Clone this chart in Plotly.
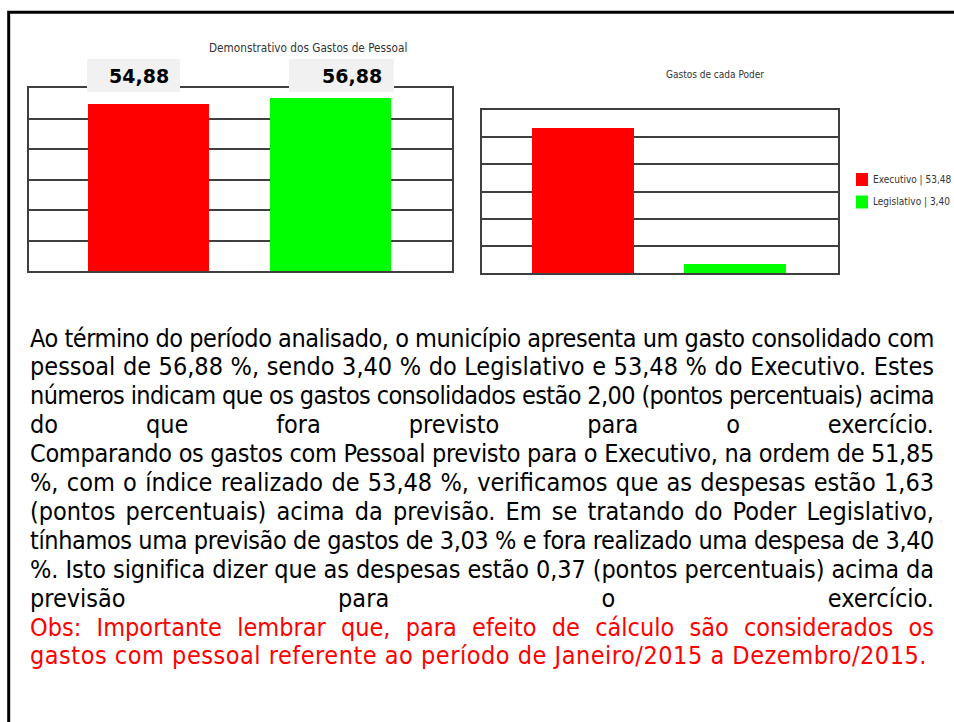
import plotly.graph_objects as go

W, H = 954, 722

# ---------------- data ----------------
consol_categories = ["Previsto", "Realizado"]
consol_values = [54.88, 56.88]
consol_colors = ["#ff0000", "#00ff00"]

poder_categories = ["Executivo", "Legislativo"]
poder_values = [53.48, 3.40]
poder_colors = ["#ff0000", "#00ff00"]

poder_previsto = [51.85, 3.03]

y_range = [0, 60]
y_dtick = 10


def br(v):
    return f"{v:.2f}".replace(".", ",")


def px(x):
    return x / W


def py(y):
    return 1 - y / H


GRID = "#3f3f3f"
TEXT_FONT = "DejaVu Sans Condensed, DejaVu Sans, Verdana, sans-serif"
SMALL_FONT = "DejaVu Sans Condensed, Liberation Sans, Arial, sans-serif"

fig = go.Figure()

fig.add_trace(go.Bar(
    x=consol_categories, y=consol_values, marker=dict(color=consol_colors, line=dict(width=0)),
    width=0.665, xaxis="x", yaxis="y", showlegend=False,
))
fig.add_trace(go.Bar(
    x=poder_categories, y=poder_values, marker=dict(color=poder_colors, line=dict(width=0)),
    width=0.671, xaxis="x2", yaxis="y2", showlegend=False,
))

axis_common = dict(showgrid=False, showticklabels=False, ticks="", zeroline=False,
                   showline=True, mirror=True, linecolor=GRID, linewidth=1.6, fixedrange=True)
yaxis_common = dict(axis_common, showgrid=True, gridcolor=GRID, gridwidth=1.6,
                    range=y_range, dtick=y_dtick, tick0=0)

fig.update_layout(
    width=W, height=H,
    margin=dict(l=0, r=0, t=0, b=0),
    paper_bgcolor="white", plot_bgcolor="white",
    showlegend=False,
    bargap=0,
    xaxis=dict(axis_common, domain=[px(29), px(452)], range=[-0.6566, 1.6676], type="category"),
    yaxis=dict(yaxis_common, domain=[py(271), py(88)], anchor="x"),
    xaxis2=dict(axis_common, domain=[px(482), px(838)], range=[-0.6645, 1.6776], type="category", anchor="y2"),
    yaxis2=dict(yaxis_common, domain=[py(273), py(110)], anchor="x2"),
)

# ---------------- paragraph text ----------------
lines = [
    "Ao término do período analisado, o município apresenta um gasto consolidado com",
    f"pessoal de {br(consol_values[1])} %, sendo {br(poder_values[1])} % do Legislativo e {br(poder_values[0])} % do Executivo. Estes",
    f"números indicam que os gastos consolidados estão {br(consol_values[1] - consol_values[0])} (pontos percentuais) acima",
    "do que fora previsto para o exercício.",
    f"Comparando os gastos com Pessoal previsto para o Executivo, na ordem de {br(poder_previsto[0])}",
    f"%, com o índice realizado de {br(poder_values[0])} %, verificamos que as despesas estão {br(poder_values[0] - poder_previsto[0])}",
    "(pontos percentuais) acima da previsão. Em se tratando do Poder Legislativo,",
    f"tínhamos uma previsão de gastos de {br(poder_previsto[1])} % e fora realizado uma despesa de {br(poder_values[1])}",
    f"%. Isto significa dizer que as despesas estão {br(poder_values[1] - poder_previsto[1])} (pontos percentuais) acima da",
    "previsão para o exercício.",
    "Obs: Importante lembrar que, para efeito de cálculo são considerados os",
    "gastos com pessoal referente ao período de Janeiro/2015 a Dezembro/2015.",
]
line_colors = ["#000000"] * 10 + ["#ff0000"] * 2
# right edge (px) each line should reach; justified lines reach the full column width
line_right = [933] * 11 + [926]
left_edge = 29

annotations = []
for i, (t, c) in enumerate(zip(lines, line_colors)):
    annotations.append(dict(
        text=t, xref="paper", yref="paper", x=px(left_edge - 1), y=py(338 + 28.9 * i),
        xanchor="left", yanchor="middle", showarrow=False, align="left",
        font=dict(family=TEXT_FONT, size=25, color=c),
    ))

# chart titles
annotations.append(dict(text="Demonstrativo dos Gastos de Pessoal", xref="paper", yref="paper",
                        x=px(308), y=py(48), xanchor="center", yanchor="middle", showarrow=False,
                        font=dict(family=SMALL_FONT, size=11.7, color="#333333")))
annotations.append(dict(text="Gastos de cada Poder", xref="paper", yref="paper",
                        x=px(715), y=py(74), xanchor="center", yanchor="middle", showarrow=False,
                        font=dict(family=SMALL_FONT, size=10, color="#333333")))

shapes = []

# value labels on the consolidated chart (grey box + bold value)
label_box = [(-0.338, 0.173), (-0.228, 0.349)]   # box extent around each bar centre (category units)
label_shift = [-10, 21]
for i, (cat, v) in enumerate(zip(consol_categories, consol_values)):
    shapes.append(dict(type="rect", xref="x", yref="paper", layer="above",
                       x0=i + label_box[i][0], x1=i + label_box[i][1], y0=py(92), y1=py(59),
                       fillcolor="#f1f1f1", line=dict(width=0)))
    annotations.append(dict(
        text=f"<b>{br(v)}</b>", xref="x", yref="paper", x=cat, y=py(76),
        xanchor="center", yanchor="middle", showarrow=False, xshift=label_shift[i],
        font=dict(family="DejaVu Sans, Verdana, sans-serif", size=19, color="#000000"),
    ))

# legend for the second chart
leg_y = [179.5, 202]
for i, (cat, v, col) in enumerate(zip(poder_categories, poder_values, poder_colors)):
    shapes.append(dict(type="rect", xref="paper", yref="paper",
                       x0=px(856), x1=px(868), y0=py(leg_y[i] - 6.5), y1=py(leg_y[i] + 6.5),
                       fillcolor=col, line=dict(width=0)))
    annotations.append(dict(text=f"{cat} | {br(v)}", xref="paper", yref="paper",
                            x=px(871), y=py(leg_y[i]), xanchor="left", yanchor="middle",
                            showarrow=False, font=dict(family=SMALL_FONT, size=10, color="#333333")))

# outer frame
shapes.append(dict(type="rect", xref="paper", yref="paper", x0=px(8.7), x1=px(970),
                   y0=py(740), y1=py(12.2), line=dict(color="black", width=3), fillcolor="rgba(0,0,0,0)"))

fig.update_layout(annotations=annotations, shapes=shapes)

targets = [r - left_edge for r in line_right]
justify_flags = [1] * 11 + [0]

post = """
document.body.style.margin = '0px';
document.body.style.padding = '0px';
var gd = document.getElementById('{plot_id}');
var T = %s;
var JF = %s;
function fitLines(){
  gd.querySelectorAll('g.annotation').forEach(function(g){
    var idx = +g.getAttribute('data-index');
    if (idx >= T.length) return;
    var t = g.querySelector('text.annotation-text');
    if (!t) return;
    t.style.wordSpacing = '0px';
    t.style.letterSpacing = '0px';
    var w = t.getComputedTextLength();
    var txt = t.textContent;
    var n = (txt.match(/ /g) || []).length;
    var target = T[idx];
    if (JF[idx] && w < target && n > 0) {
      t.style.wordSpacing = ((target - w) / n) + 'px';
    } else {
      t.style.letterSpacing = ((target - w) / txt.length) + 'px';
    }
  });
}
fitLines();
""" % (str(targets), str(justify_flags))

fig.write_html("out.html", post_script=post, config={"displayModeBar": False})
